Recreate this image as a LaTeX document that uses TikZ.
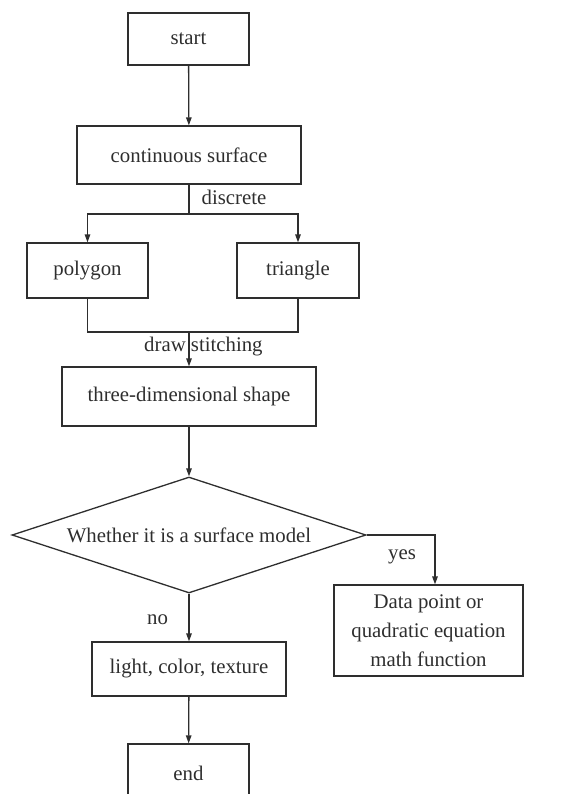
\documentclass[tikz,border=0pt]{standalone}
\usepackage{fontspec}
\setmainfont{Liberation Serif}
\usetikzlibrary{shapes.geometric,arrows.meta,positioning}
\definecolor{ink}{HTML}{2E2E2E}
\tikzset{
  every node/.style={text=ink, font=\fontsize{20.8}{29}\selectfont},
  box/.style={draw=ink, line width=1.3pt, rectangle, inner sep=0pt, align=center},
  decide/.style={draw=ink, line width=1.3pt, diamond, inner sep=0pt, aspect=3.05,
    minimum width=354pt, minimum height=116pt},
  link/.style={draw=ink, line width=1.3pt},
  arrowlink/.style={link, -{Triangle[length=8pt,width=5.5pt]}},
  tag/.style={inner sep=0pt}
}
\begin{document}
\begin{tikzpicture}[x=1pt, y=-1pt]
  \useasboundingbox (0,0) rectangle (564,794);
  \clip (0,0) rectangle (564,794);

  % process boxes
  \node[box, minimum width=121pt, minimum height=52pt] (start) at (188.5,39) {start};
  \node[box, minimum width=224pt, minimum height=58pt] (cont) at (189,155) {continuous surface};
  \node[box, minimum width=121pt, minimum height=55pt] (poly) at (87.5,270.5) {polygon};
  \node[box, minimum width=122pt, minimum height=55pt] (tri) at (298,270.5) {triangle};
  \node[box, minimum width=254pt, minimum height=59pt] (shape) at (189,396.5) {three-dimensional shape};
  \node[decide] (dia) at (189,535) {Whether it is a surface model};
  \node[box, minimum width=189pt, minimum height=91pt] (data) at (428.5,630.5)
    {Data point or\\quadratic equation\\math function};
  \node[box, minimum width=194pt, minimum height=54pt] (light) at (189,669) {light, color, texture};
  \node[box, minimum width=121pt, minimum height=58pt] (end) at (188.5,773) {end};

  % branch and merge points
  \coordinate (split) at (189,214);
  \coordinate (join) at (189,332);

  % connectors
  \draw[arrowlink] (start) -- (cont);
  \draw[link] (cont.south) -- (split);
  \draw[arrowlink] (split) -| (poly.north);
  \draw[arrowlink] (split) -| (tri.north);
  \draw[link] (poly.south) |- (join) -| (tri.south);
  \draw[arrowlink] (join) -- (shape.north);
  \draw[arrowlink] (shape) -- (dia.north);
  \draw[arrowlink] (dia.east) -| ([xshift=6.5pt]data.north);
  \draw[arrowlink] (dia.south) -- (light.north);
  \draw[arrowlink] (light) -- (end);

  % connector labels
  \node[tag] (ldisc) at (234,197) {discrete};
  \node[tag, anchor=west] (lstitch) at (144,347) {draw stitching};
  \node[tag] (lyes) at (402,557) {yes};
  \node[tag] (lno) at (157.5,620) {no};
\end{tikzpicture}
\end{document}
